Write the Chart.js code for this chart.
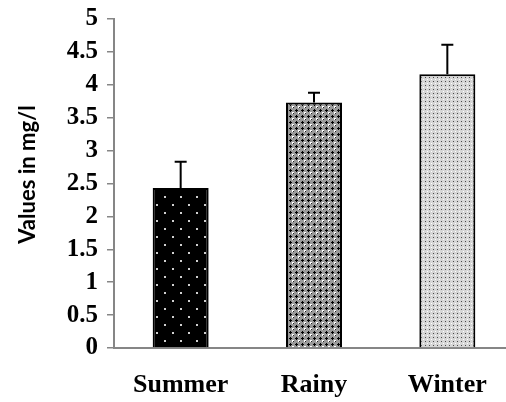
<!DOCTYPE html>
<html>
<head>
<meta charset="utf-8">
<script src="https://cdn.jsdelivr.net/npm/chart.js@4"></script>
<style>
    html, body { margin: 0; padding: 0; background: #fff; overflow: hidden; }
    #wrap { width: 514px; height: 402px; }
</style>
</head>
<body>
<div id="wrap"><canvas id="chart" width="514" height="402"></canvas></div>
<script>
'use strict';

// ===== データ =====
const SEASONS   = ['Summer', 'Rainy', 'Winter'];
const MEANS     = [2.43, 3.73, 4.16];
const ERRORS    = [0.40, 0.15, 0.45];
const Y_TICKS   = [0, 0.5, 1, 1.5, 2, 2.5, 3, 3.5, 4, 4.5, 5];
const Y_TITLE   = 'Values in mg/l';

const AXIS_GREY = '#868686';

// ===== 塗りパターン =====
function makePattern(size, draw) {
    const c = document.createElement('canvas');
    c.width = size;
    c.height = size;
    draw(c.getContext('2d'));
    return document.getElementById('chart').getContext('2d').createPattern(c, 'repeat');
}

// 夏: 黒地に白い点
const dotPattern = makePattern(16, g => {
    g.fillStyle = '#000';
    g.fillRect(0, 0, 16, 16);
    g.fillStyle = '#d0d0d0';
    g.fillRect(4, 4, 2, 2);
    g.fillRect(12, 12, 2, 2);
});

// 雨季: 格子
const hatchPattern = makePattern(6, g => {
    g.fillStyle = '#9a9a9a';
    g.fillRect(0, 0, 6, 6);
    g.fillStyle = '#000';
    g.fillRect(2, 1, 1, 3);
    g.fillRect(1, 2, 3, 1);
    g.fillStyle = '#fff';
    g.fillRect(4, 4, 2, 2);
    g.fillStyle = '#222';
    g.fillRect(5, 5, 1, 1);
});

// 冬: 細かい点
const fineDotPattern = makePattern(4, g => {
    g.fillStyle = '#d6d6d6';
    g.fillRect(0, 0, 4, 4);
    g.fillStyle = '#4a4a4a';
    g.fillRect(1, 1, 1, 1);
    g.fillStyle = '#fff';
    g.fillRect(3, 3, 1, 1);
});

// ===== 誤差棒 =====
const errorBarPlugin = {
    id: 'errorBars',
    afterDatasetsDraw(chart) {
        const { ctx } = chart;
        const yScale = chart.scales.y;
        const meta = chart.getDatasetMeta(0);
        ctx.save();
        ctx.strokeStyle = '#000';
        ctx.lineWidth = 2;
        meta.data.forEach((bar, i) => {
            const x   = bar.x;
            const y0  = yScale.getPixelForValue(MEANS[i]);
            const y1  = yScale.getPixelForValue(MEANS[i] + ERRORS[i]);
            ctx.beginPath();
            ctx.moveTo(x, y0);
            ctx.lineTo(x, y1);
            ctx.moveTo(x - 6, y1);
            ctx.lineTo(x + 6, y1);
            ctx.stroke();
        });
        ctx.restore();
    },
};

// ===== 縦軸タイトル（少し上寄せ） =====
const yTitlePlugin = {
    id: 'yTitle',
    afterDraw(chart) {
        const { ctx, chartArea } = chart;
        const cy = (chartArea.top + chartArea.bottom) / 2 - 9;
        ctx.save();
        ctx.translate(28, cy);
        ctx.rotate(-Math.PI / 2);
        ctx.fillStyle = '#000';
        ctx.font = 'bold 22px Lato, "Open Sans", sans-serif';
        ctx.textAlign = 'center';
        ctx.textBaseline = 'middle';
        ctx.fillText(Y_TITLE, 0, 0);
        ctx.restore();
    },
};

new Chart(document.getElementById('chart'), {
    type: 'bar',
    data: {
        labels: SEASONS,
        datasets: [{
            data: MEANS,
            backgroundColor: [dotPattern, hatchPattern, fineDotPattern],
            borderColor: '#000',
            borderWidth: 2,
            borderSkipped: 'bottom',
            barPercentage: 0.42,
            categoryPercentage: 1,
        }],
    },
    options: {
        responsive: false,
        animation: false,
        layout: { padding: { top: 19, right: 0, left: 0, bottom: 0 } },
        plugins: {
            legend:  { display: false },
            tooltip: { enabled: false },
        },
        scales: {
            x: {
                grid:   { display: false, drawTicks: false },
                border: { color: AXIS_GREY, width: 2 },
                ticks: {
                    padding: 22,
                    color: '#000',
                    font: { family: '"Liberation Serif", serif', size: 26, weight: 'bold' },
                },
                afterFit: scale => { scale.height = 54; },
            },
            y: {
                min: 0,
                max: 5,
                afterBuildTicks: scale => {
                    scale.ticks = Y_TICKS.map(v => ({ value: v }));
                },
                grid: {
                    drawOnChartArea: false,
                    drawTicks: true,
                    tickLength: 7,
                    color: AXIS_GREY,
                    lineWidth: 1.5,
                },
                border: { color: AXIS_GREY, width: 2 },
                ticks: {
                    padding: 9,
                    autoSkip: false,
                    color: '#000',
                    callback: v => String(v),
                    font: { family: '"Liberation Serif", serif', size: 25, weight: 'bold' },
                },
                afterFit: scale => {
                    scale.width = 114;
                    scale.paddingTop = 0;
                    scale.paddingBottom = 0;
                },
            },
        },
    },
    plugins: [errorBarPlugin, yTitlePlugin],
});
</script>
</body>
</html>
